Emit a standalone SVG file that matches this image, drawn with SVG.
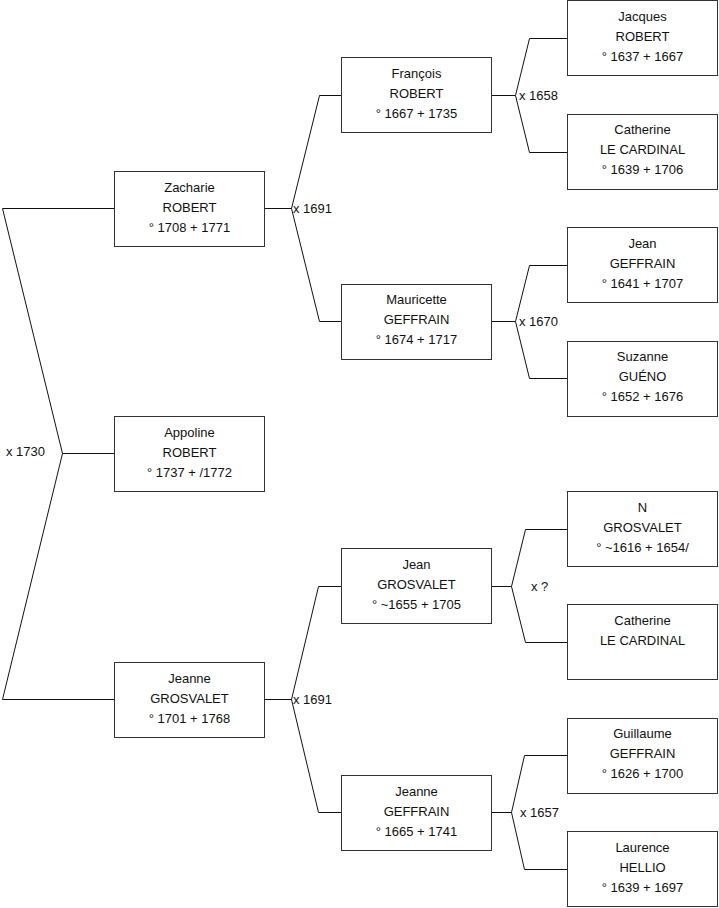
<svg xmlns="http://www.w3.org/2000/svg" width="719" height="908" viewBox="0 0 719 908">
<style>
.box{fill:#fff;stroke:#333;stroke-width:1}
.ln{fill:none;stroke:#111;stroke-width:1}
text{font-family:"Liberation Sans",Arial,sans-serif;font-size:13px;fill:#111}
.c{text-anchor:middle}
</style>
<rect width="719" height="908" fill="#fff"/>
<g id="connectors">
<polyline class="ln" points="114,208.5 2.5,208.5 62.5,453.5 2.5,699.5 114,699.5"/>
<line class="ln" x1="62.5" y1="453.5" x2="114" y2="453.5"/>
<polyline class="ln" points="265,208.5 291.5,208.5"/>
<polyline class="ln" points="341,95.5 319.5,95.5 291.5,208.5 319.5,321.5 341,321.5"/>
<polyline class="ln" points="265,699.5 291.5,699.5"/>
<polyline class="ln" points="341,586.5 318.5,586.5 291.5,699.5 318.5,812.5 341,812.5"/>
<polyline class="ln" points="492,95.5 515.5,95.5"/>
<polyline class="ln" points="567,38.5 529.5,38.5 515.5,95.5 529.5,152.5 567,152.5"/>
<polyline class="ln" points="492,321.5 515.5,321.5"/>
<polyline class="ln" points="567,265.5 529.5,265.5 515.5,321.5 529.5,378.5 567,378.5"/>
<polyline class="ln" points="492,586.5 511.5,586.5"/>
<polyline class="ln" points="567,529.5 525.5,529.5 511.5,586.5 525.5,642.5 567,642.5"/>
<polyline class="ln" points="492,812.5 511.5,812.5"/>
<polyline class="ln" points="567,755.5 524.5,755.5 511.5,812.5 524.5,869.5 567,869.5"/>
</g>
<g id="labels">
<text x="6" y="456">x 1730</text>
<text x="293" y="212.5">x 1691</text>
<text x="293" y="703.5">x 1691</text>
<text x="519" y="99.5">x 1658</text>
<text x="519" y="325.5">x 1670</text>
<text x="531" y="590.5">x ?</text>
<text x="520" y="816.5">x 1657</text>
</g>
<g id="zacharie">
<rect class="box" x="114.5" y="171.5" width="150" height="75"/>
<text class="c" x="189.5" y="191.5">Zacharie</text>
<text class="c" x="189.5" y="211.5">ROBERT</text>
<text class="c" x="189.5" y="231.5">° 1708 + 1771</text>
</g>
<g id="appoline">
<rect class="box" x="114.5" y="416.5" width="150" height="75"/>
<text class="c" x="189.5" y="437">Appoline</text>
<text class="c" x="189.5" y="457">ROBERT</text>
<text class="c" x="189.5" y="477">° 1737 + /1772</text>
</g>
<g id="jeanne-grosvalet">
<rect class="box" x="114.5" y="662.5" width="150" height="75"/>
<text class="c" x="189.5" y="682.5">Jeanne</text>
<text class="c" x="189.5" y="702.5">GROSVALET</text>
<text class="c" x="189.5" y="722.5">° 1701 + 1768</text>
</g>
<g id="francois">
<rect class="box" x="341.5" y="57.5" width="150" height="75"/>
<text class="c" x="416.5" y="77.5">François</text>
<text class="c" x="416.5" y="97.5">ROBERT</text>
<text class="c" x="416.5" y="117.5">° 1667 + 1735</text>
</g>
<g id="mauricette">
<rect class="box" x="341.5" y="284.5" width="150" height="75"/>
<text class="c" x="416.5" y="304">Mauricette</text>
<text class="c" x="416.5" y="324">GEFFRAIN</text>
<text class="c" x="416.5" y="344">° 1674 + 1717</text>
</g>
<g id="jean-grosvalet">
<rect class="box" x="341.5" y="548.5" width="150" height="75"/>
<text class="c" x="416.5" y="568.5">Jean</text>
<text class="c" x="416.5" y="588.5">GROSVALET</text>
<text class="c" x="416.5" y="608.5">° ~1655 + 1705</text>
</g>
<g id="jeanne-geffrain">
<rect class="box" x="341.5" y="775.5" width="150" height="75"/>
<text class="c" x="416.5" y="795.5">Jeanne</text>
<text class="c" x="416.5" y="815.5">GEFFRAIN</text>
<text class="c" x="416.5" y="835.5">° 1665 + 1741</text>
</g>
<g id="jacques">
<rect class="box" x="567.5" y="0.5" width="150" height="75"/>
<text class="c" x="642.5" y="20.5">Jacques</text>
<text class="c" x="642.5" y="40.5">ROBERT</text>
<text class="c" x="642.5" y="60.5">° 1637 + 1667</text>
</g>
<g id="catherine-1">
<rect class="box" x="567.5" y="114.5" width="150" height="75"/>
<text class="c" x="642.5" y="134">Catherine</text>
<text class="c" x="642.5" y="154">LE CARDINAL</text>
<text class="c" x="642.5" y="174">° 1639 + 1706</text>
</g>
<g id="jean-geffrain">
<rect class="box" x="567.5" y="227.5" width="150" height="75"/>
<text class="c" x="642.5" y="247.5">Jean</text>
<text class="c" x="642.5" y="267.5">GEFFRAIN</text>
<text class="c" x="642.5" y="287.5">° 1641 + 1707</text>
</g>
<g id="suzanne">
<rect class="box" x="567.5" y="341.5" width="150" height="75"/>
<text class="c" x="642.5" y="361">Suzanne</text>
<text class="c" x="642.5" y="381">GUÉNO</text>
<text class="c" x="642.5" y="401">° 1652 + 1676</text>
</g>
<g id="n-grosvalet">
<rect class="box" x="567.5" y="491.5" width="150" height="75"/>
<text class="c" x="642.5" y="511.5">N</text>
<text class="c" x="642.5" y="531.5">GROSVALET</text>
<text class="c" x="642.5" y="551.5">° ~1616 + 1654/</text>
</g>
<g id="catherine-2">
<rect class="box" x="567.5" y="604.5" width="150" height="75"/>
<text class="c" x="642.5" y="624.5">Catherine</text>
<text class="c" x="642.5" y="644.5">LE CARDINAL</text>
</g>
<g id="guillaume">
<rect class="box" x="567.5" y="718.5" width="150" height="75"/>
<text class="c" x="642.5" y="738">Guillaume</text>
<text class="c" x="642.5" y="758">GEFFRAIN</text>
<text class="c" x="642.5" y="778">° 1626 + 1700</text>
</g>
<g id="laurence">
<rect class="box" x="567.5" y="831.5" width="150" height="75"/>
<text class="c" x="642.5" y="851.5">Laurence</text>
<text class="c" x="642.5" y="871.5">HELLIO</text>
<text class="c" x="642.5" y="891.5">° 1639 + 1697</text>
</g>
</svg>
